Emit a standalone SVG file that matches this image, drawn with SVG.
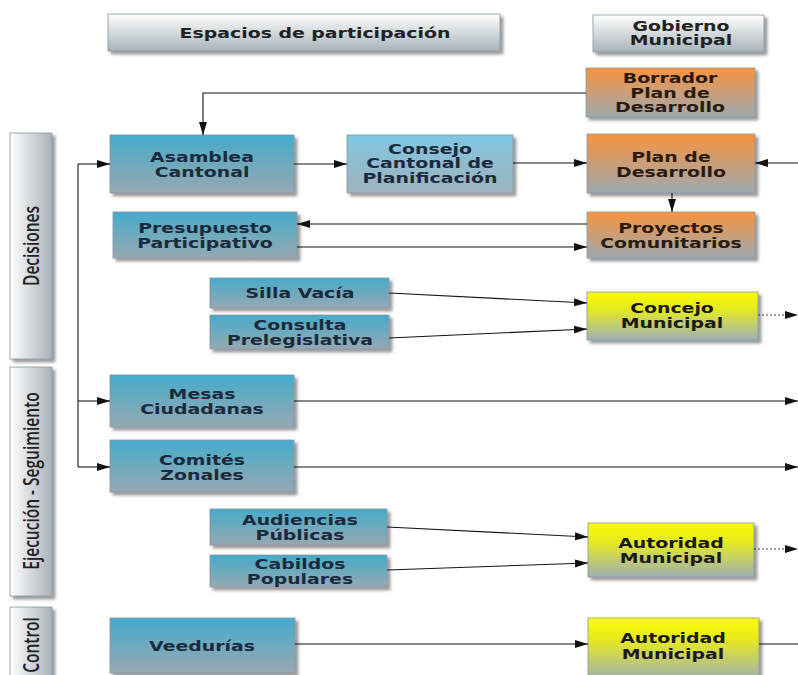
<svg xmlns="http://www.w3.org/2000/svg" width="798" height="675" viewBox="0 0 798 675">
<defs>
  <linearGradient id="gBlue" x1="0" y1="0" x2="0" y2="1"><stop offset="0" stop-color="#45abca"/><stop offset="1" stop-color="#97a8b2"/></linearGradient>
  <linearGradient id="gBlueL" x1="0" y1="0" x2="0" y2="1"><stop offset="0" stop-color="#7fc7e2"/><stop offset="1" stop-color="#a0b2bc"/></linearGradient>
  <linearGradient id="gOrange" x1="0" y1="0" x2="0" y2="1"><stop offset="0" stop-color="#f7933e"/><stop offset="1" stop-color="#9ea9b0"/></linearGradient>
  <linearGradient id="gYellow" x1="0" y1="0" x2="0" y2="1"><stop offset="0" stop-color="#fbfb05"/><stop offset="0.35" stop-color="#e6ea20"/><stop offset="1" stop-color="#9fb0b3"/></linearGradient>
  <linearGradient id="gHead" x1="0" y1="0" x2="0" y2="1"><stop offset="0" stop-color="#ffffff"/><stop offset="1" stop-color="#a8b3ba"/></linearGradient>
  <linearGradient id="gSide" x1="0" y1="0" x2="1" y2="0"><stop offset="0" stop-color="#ffffff"/><stop offset="1" stop-color="#a9b2b9"/></linearGradient>
  <filter id="sh" x="-10%" y="-10%" width="130%" height="140%">
    <feDropShadow dx="3" dy="3" stdDeviation="1.5" flood-color="#4a4a4a" flood-opacity="0.55"/>
  </filter>
  <marker id="ah" markerUnits="userSpaceOnUse" markerWidth="14" markerHeight="9" refX="13" refY="4.5" orient="auto">
    <path d="M0,0.5 L13,4.5 L0,8.5 z" fill="#111"/>
  </marker>
</defs>
<style>
  .box { stroke: #8796a0; stroke-width: 0.8; filter: url(#sh); }
  .blue { fill: url(#gBlue); }
  .bluel { fill: url(#gBlueL); }
  .orange { fill: url(#gOrange); }
  .yellow { fill: url(#gYellow); }
  .head { fill: url(#gHead); }
  .side { fill: url(#gSide); }
  .t { font-family: "DejaVu Sans", Verdana, sans-serif; font-weight: bold; font-size: 13.3px; text-anchor: middle; }
  .tb { fill: #1b2a3d; }
  .to { fill: #2b1b10; }
  .ty { fill: #1a1a1a; }
  .th { fill: #222222; }
  .ts { font-family: "Open Sans", "Noto Sans", sans-serif; font-weight: 600; font-size: 15.5px; fill: #222222; text-anchor: middle; }
  .c { fill: none; stroke: #151515; stroke-width: 1.1; }
  .d { fill: none; stroke: #444; stroke-width: 1.1; stroke-dasharray: 2 2; }
</style>

<g id="side-decisiones">
  <rect class="box side" x="10" y="133" width="42" height="226"/>
  <text class="ts" transform="translate(39,246) scale(1.35,1) rotate(-90)" x="0" y="0">Decisiones</text>
</g>
<g id="side-ejecucion">
  <rect class="box side" x="10" y="367" width="42" height="229"/>
  <text class="ts" transform="translate(39,481) scale(1.35,1) rotate(-90)" x="0" y="0">Ejecución - Seguimiento</text>
</g>
<g id="side-control">
  <rect class="box side" x="10" y="607" width="42" height="75"/>
  <text class="ts" transform="translate(39,645) scale(1.35,1) rotate(-90)" x="0" y="0">Control</text>
</g>

<g id="head-espacios">
  <rect class="box head" x="108" y="14" width="392" height="37"/>
  <text class="t th" transform="translate(315,0) scale(1.42,1)" x="0" y="38">Espacios de participación</text>
</g>
<g id="head-gobierno">
  <rect class="box head" x="593" y="15" width="171" height="37"/>
  <text class="t th" transform="translate(681,0) scale(1.42,1)" x="0" y="31">Gobierno</text>
  <text class="t th" transform="translate(681,0) scale(1.42,1)" x="0" y="45.5">Municipal</text>
</g>

<g id="borrador">
  <rect class="box orange" x="586" y="68" width="169" height="49"/>
  <text class="t to" transform="translate(670,0) scale(1.42,1)" x="0" y="83.5">Borrador</text>
  <text class="t to" transform="translate(670,0) scale(1.42,1)" x="0" y="98">Plan de</text>
  <text class="t to" transform="translate(670,0) scale(1.42,1)" x="0" y="112.5">Desarrollo</text>
</g>
<g id="asamblea">
  <rect class="box blue" x="110" y="135" width="184" height="58"/>
  <text class="t tb" transform="translate(202,0) scale(1.42,1)" x="0" y="162">Asamblea</text>
  <text class="t tb" transform="translate(202,0) scale(1.42,1)" x="0" y="177">Cantonal</text>
</g>
<g id="consejo">
  <rect class="box bluel" x="347" y="135" width="166" height="58"/>
  <text class="t tb" transform="translate(430,0) scale(1.42,1)" x="0" y="154">Consejo</text>
  <text class="t tb" transform="translate(430,0) scale(1.42,1)" x="0" y="168.5">Cantonal de</text>
  <text class="t tb" transform="translate(430,0) scale(1.42,1)" x="0" y="183">Planificación</text>
</g>
<g id="plan">
  <rect class="box orange" x="587" y="134" width="168" height="59"/>
  <text class="t to" transform="translate(671,0) scale(1.42,1)" x="0" y="162">Plan de</text>
  <text class="t to" transform="translate(671,0) scale(1.42,1)" x="0" y="177">Desarrollo</text>
</g>
<g id="presupuesto">
  <rect class="box blue" x="113" y="212" width="184" height="46"/>
  <text class="t tb" transform="translate(205,0) scale(1.42,1)" x="0" y="233">Presupuesto</text>
  <text class="t tb" transform="translate(205,0) scale(1.42,1)" x="0" y="248">Participativo</text>
</g>
<g id="proyectos">
  <rect class="box orange" x="587" y="212" width="168" height="46"/>
  <text class="t to" transform="translate(671,0) scale(1.42,1)" x="0" y="233">Proyectos</text>
  <text class="t to" transform="translate(671,0) scale(1.42,1)" x="0" y="248">Comunitarios</text>
</g>
<g id="silla">
  <rect class="box blue" x="210" y="278" width="179" height="30"/>
  <text class="t tb" transform="translate(300,0) scale(1.42,1)" x="0" y="298">Silla Vacía</text>
</g>
<g id="consulta">
  <rect class="box blue" x="210" y="315" width="179" height="34"/>
  <text class="t tb" transform="translate(300,0) scale(1.42,1)" x="0" y="330">Consulta</text>
  <text class="t tb" transform="translate(300,0) scale(1.42,1)" x="0" y="345">Prelegislativa</text>
</g>
<g id="concejo">
  <rect class="box yellow" x="587" y="292" width="171" height="48"/>
  <text class="t ty" transform="translate(672,0) scale(1.42,1)" x="0" y="313">Concejo</text>
  <text class="t ty" transform="translate(672,0) scale(1.42,1)" x="0" y="328">Municipal</text>
</g>
<g id="mesas">
  <rect class="box blue" x="110" y="375" width="184" height="52"/>
  <text class="t tb" transform="translate(202,0) scale(1.42,1)" x="0" y="399">Mesas</text>
  <text class="t tb" transform="translate(202,0) scale(1.42,1)" x="0" y="414">Ciudadanas</text>
</g>
<g id="comites">
  <rect class="box blue" x="110" y="440" width="184" height="52"/>
  <text class="t tb" transform="translate(202,0) scale(1.42,1)" x="0" y="465">Comités</text>
  <text class="t tb" transform="translate(202,0) scale(1.42,1)" x="0" y="480">Zonales</text>
</g>
<g id="audiencias">
  <rect class="box blue" x="210" y="509" width="177" height="36"/>
  <text class="t tb" transform="translate(300,0) scale(1.42,1)" x="0" y="525">Audiencias</text>
  <text class="t tb" transform="translate(300,0) scale(1.42,1)" x="0" y="540">Públicas</text>
</g>
<g id="cabildos">
  <rect class="box blue" x="210" y="555" width="177" height="32"/>
  <text class="t tb" transform="translate(300,0) scale(1.42,1)" x="0" y="569">Cabildos</text>
  <text class="t tb" transform="translate(300,0) scale(1.42,1)" x="0" y="584">Populares</text>
</g>
<g id="autoridad1">
  <rect class="box yellow" x="588" y="523" width="166" height="54"/>
  <text class="t ty" transform="translate(671,0) scale(1.42,1)" x="0" y="548">Autoridad</text>
  <text class="t ty" transform="translate(671,0) scale(1.42,1)" x="0" y="563">Municipal</text>
</g>
<g id="veedurias">
  <rect class="box blue" x="110" y="618" width="185" height="55"/>
  <text class="t tb" transform="translate(202,0) scale(1.42,1)" x="0" y="651">Veedurías</text>
</g>
<g id="autoridad2">
  <rect class="box yellow" x="588" y="618" width="171" height="62"/>
  <text class="t ty" transform="translate(673,0) scale(1.42,1)" x="0" y="643">Autoridad</text>
  <text class="t ty" transform="translate(673,0) scale(1.42,1)" x="0" y="659">Municipal</text>
</g>

<g id="connectors">
  <path class="c" d="M586,93 H203 V135" marker-end="url(#ah)"/>
  <path class="c" d="M78,164 V467"/>
  <path class="c" d="M78,164 H110" marker-end="url(#ah)"/>
  <path class="c" d="M78,401 H110" marker-end="url(#ah)"/>
  <path class="c" d="M78,467 H110" marker-end="url(#ah)"/>
  <path class="c" d="M294,164 H347" marker-end="url(#ah)"/>
  <path class="c" d="M513,163 H587" marker-end="url(#ah)"/>
  <path class="c" d="M798,163 H755" marker-end="url(#ah)"/>
  <path class="c" d="M672,193 V212" marker-end="url(#ah)"/>
  <path class="c" d="M587,224 H297" marker-end="url(#ah)"/>
  <path class="c" d="M297,247 H587" marker-end="url(#ah)"/>
  <path class="c" d="M389,293 L587,303" marker-end="url(#ah)"/>
  <path class="c" d="M389,338 L587,329" marker-end="url(#ah)"/>
  <path class="d" d="M758,315 H798" marker-end="url(#ah)"/>
  <path class="c" d="M294,401 H798" marker-end="url(#ah)"/>
  <path class="c" d="M294,467 H798" marker-end="url(#ah)"/>
  <path class="c" d="M387,527 L588,537" marker-end="url(#ah)"/>
  <path class="c" d="M387,570 L588,563" marker-end="url(#ah)"/>
  <path class="d" d="M754,549 H798" marker-end="url(#ah)"/>
  <path class="c" d="M295,644 H588" marker-end="url(#ah)"/>
  <path class="c" d="M759,644 H798"/>
</g>
</svg>
